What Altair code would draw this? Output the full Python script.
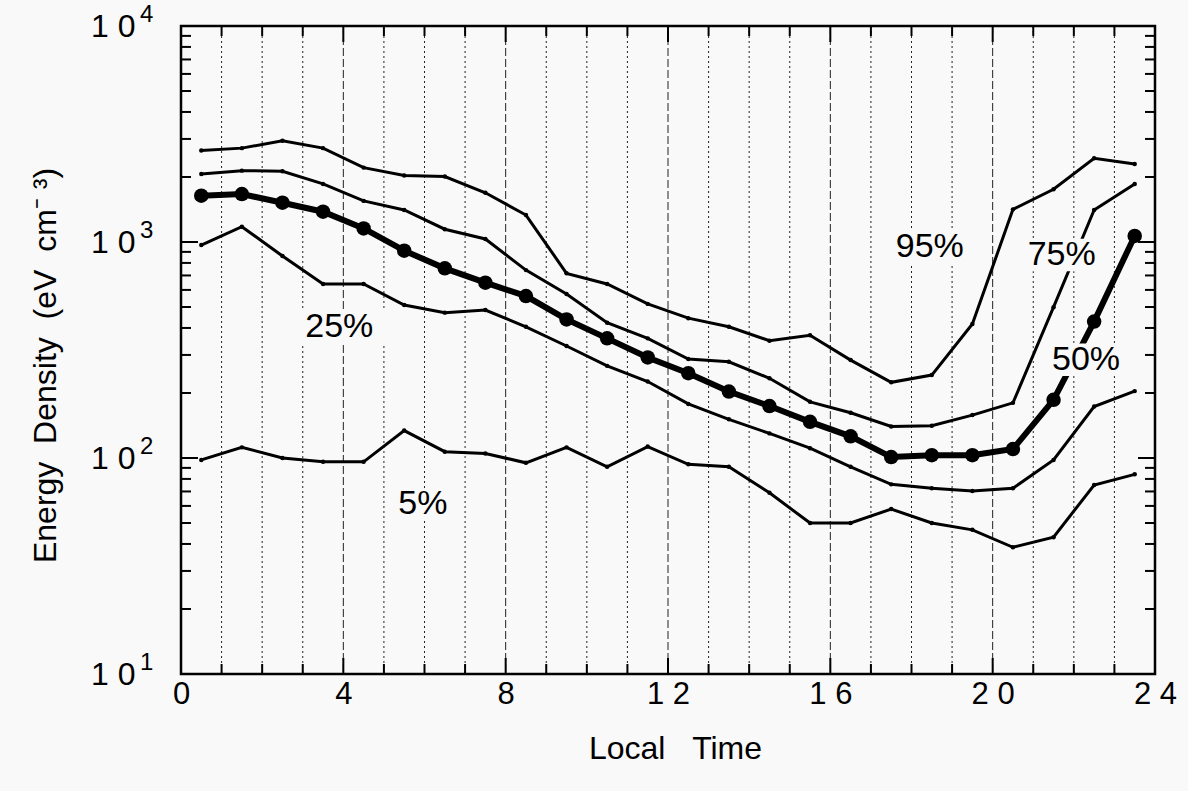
import altair as alt
import pandas as pd

# ---- data ----
hours = [0.5, 1.5, 2.5, 3.5, 4.5, 5.5, 6.5, 7.5, 8.5, 9.5, 10.5, 11.5,
         12.5, 13.5, 14.5, 15.5, 16.5, 17.5, 18.5, 19.5, 20.5, 21.5, 22.5, 23.5]
p95 = [2650, 2720, 2940, 2720, 2210, 2030, 2010, 1690, 1333, 716, 639, 517,
       444, 405, 349, 370, 284, 224, 242, 417, 1416, 1754, 2440, 2296]
p75 = [2066, 2140, 2125, 1857, 1550, 1407, 1146, 1033, 741, 574, 423, 358,
       287, 279, 234, 182, 162, 140, 141, 158, 180, 499, 1406, 1857]
p50 = [1638, 1667, 1520, 1381, 1156, 912, 755, 648, 562, 438, 358, 292,
       247, 203, 174, 147, 126, 101, 103, 103, 110, 186, 428, 1067]
p25 = [968, 1177, 861, 639, 639, 511, 471, 484, 405, 330, 267, 226,
       178, 151, 130, 111, 91, 75.5, 72.4, 70.3, 72.4, 98, 173, 204]
p5 = [98, 112, 100, 96, 96, 134, 107, 105, 95, 112, 91, 113,
      93.5, 91, 69, 50, 50, 58, 50, 46.5, 38.6, 43, 75, 84]

label_text = ["95%", "75%", "50%", "25%", "5%"]
label_hour = [18.45, 21.7, 22.3, 3.9, 5.96]
label_value = [951, 871, 285, 404, 61]

x_ticks = [0, 4, 8, 12, 16, 20, 24]
y_decades = [10, 100, 1000, 10000]
y_exponents = ["1", "2", "3", "4"]
grid_hours_minor = [1, 2, 3, 5, 6, 7, 9, 10, 11, 13, 14, 15, 17, 18, 19, 21, 22, 23]
grid_hours_major = [4, 8, 12, 16, 20]

NB = "\u00a0"
x_title = "Local" + NB * 3 + "Time"
y_title = "Energy" + NB * 2 + "Density" + NB * 2 + "(eV" + NB * 2 + "cm⁻" + NB + "³)"

# ---- tables ----
thin = pd.concat([
    pd.DataFrame({"h": hours, "v": s, "pct": name})
    for name, s in [("95", p95), ("75", p75), ("25", p25), ("5", p5)]
])
median = pd.DataFrame({"h": hours, "v": p50})
labels = pd.DataFrame({"h": label_hour, "v": label_value, "t": label_text})
PX_PER_H = 974 / 24.0
labels["h0"] = labels["h"] - (labels["t"].str.len() * 12 + 10) / PX_PER_H
labels["h1"] = labels["h"] + (labels["t"].str.len() * 12 + 10) / PX_PER_H
labels["v0"] = labels["v"] / 1.19
labels["v1"] = labels["v"] * 1.19

minor_y = [m * d for d in [10, 100, 1000] for m in range(2, 10)]
major_y = [100, 1000]
ytick_minor = pd.DataFrame({"v": minor_y})
ytick_major = pd.DataFrame({"v": major_y})
xtick_minor = pd.DataFrame({"h": grid_hours_minor})
xtick_major = pd.DataFrame({"h": grid_hours_major})
exps = pd.DataFrame({"v": y_decades, "e": y_exponents})

FONT = "Liberation Sans"
BG = "#f9f9f9"
xs = alt.Scale(domain=[0, 24], nice=False, zero=False)
ys = alt.Scale(type="log", domain=[10, 10000], nice=False)

x_axis = alt.Axis(values=x_ticks, tickSize=0, domain=False, grid=False,
                  labelFontSize=31, labelPadding=5, labelFont=FONT, labelColor="black",
                  labelFlush=False, labelOverlap=False,
                  labelExpr="datum.value >= 10 ? slice(datum.label,0,1) + ' ' + slice(datum.label,1) : datum.label",
                  title=x_title, titleFont=FONT, titleFontSize=32, titleFontWeight="normal",
                  titleColor="black", titleX=494, titleY=74, titleBaseline="middle")
y_axis = alt.Axis(values=y_decades, tickSize=0, domain=False, grid=False,
                  labelFontSize=32, labelPadding=46, labelFont=FONT, labelColor="black",
                  labelBaseline="middle", labelFlush=False, labelOverlap=False,
                  labelExpr="'1 0'",
                  title=y_title, titleFont=FONT, titleFontSize=32,
                  titleFontWeight="normal", titleColor="black", titleX=-136, titleY=339,
                  titleAngle=270, titleBaseline="middle", titleAlign="center")

base_x = alt.X("h:Q", scale=xs, axis=x_axis)
base_y = alt.Y("v:Q", scale=ys, axis=y_axis)

grid_minor = alt.Chart(xtick_minor).mark_rule(color="#222", strokeWidth=1, strokeDash=[2, 3]).encode(x=base_x)
grid_major = alt.Chart(xtick_major).mark_rule(color="#222", strokeWidth=1, strokeDash=[8, 3]).encode(x=base_x)

thin_lines = alt.Chart(thin).mark_line(color="black", strokeWidth=3).encode(
    x=base_x, y=base_y, detail="pct:N")
thin_pts = alt.Chart(thin).mark_circle(color="black", size=20, opacity=1).encode(x=base_x, y=base_y)
med_line = alt.Chart(median).mark_line(color="black", strokeWidth=6).encode(x=base_x, y=base_y)
med_pts = alt.Chart(median).mark_circle(color="black", size=210, opacity=1).encode(x=base_x, y=base_y)

boxes = alt.Chart(labels).transform_calculate(h="datum.h0").mark_rect(color=BG).encode(
    x=base_x, x2="h1:Q", y=alt.Y("v0:Q", scale=ys, axis=y_axis), y2="v1:Q")
texts = alt.Chart(labels).mark_text(font=FONT, fontSize=34, color="black", baseline="middle", align="center").encode(
    x=base_x, y=base_y, text="t:N")

bx_minor = alt.Chart(xtick_minor).mark_rule(color="black", strokeWidth=2).encode(x=base_x, y=alt.value(648), y2=alt.value(638))
bx_major = alt.Chart(xtick_major).mark_rule(color="black", strokeWidth=2).encode(x=base_x, y=alt.value(648), y2=alt.value(632))
tx_minor = alt.Chart(xtick_minor).mark_rule(color="black", strokeWidth=2).encode(x=base_x, y=alt.value(0), y2=alt.value(10))
tx_major = alt.Chart(xtick_major).mark_rule(color="black", strokeWidth=2).encode(x=base_x, y=alt.value(0), y2=alt.value(16))
ly_minor = alt.Chart(ytick_minor).mark_rule(color="black", strokeWidth=2).encode(y=base_y, x=alt.value(0), x2=alt.value(10))
ly_major = alt.Chart(ytick_major).mark_rule(color="black", strokeWidth=2).encode(y=base_y, x=alt.value(0), x2=alt.value(17))
ry_minor = alt.Chart(ytick_minor).mark_rule(color="black", strokeWidth=2).encode(y=base_y, x=alt.value(974), x2=alt.value(964))
ry_major = alt.Chart(ytick_major).mark_rule(color="black", strokeWidth=2).encode(y=base_y, x=alt.value(974), x2=alt.value(957))

exp_text = alt.Chart(exps).mark_text(font=FONT, fontSize=24, color="black", align="left",
                                     baseline="middle", dy=-11).encode(
    y=base_y, x=alt.value(-41), text="e:N")

chart = alt.layer(
    grid_minor, grid_major, thin_lines, thin_pts, med_line, med_pts,
    boxes, texts, bx_minor, bx_major, tx_minor, tx_major,
    ly_minor, ly_major, ry_minor, ry_major, exp_text
).properties(
    width=974, height=648,
    padding={"left": 181, "top": 26, "right": 33, "bottom": 117},
    autosize=alt.AutoSizeParams(type="none"),
    background=BG,
).configure_view(stroke="black", strokeWidth=2.5)

chart.save("out.html", embed_options={"renderer": "svg", "actions": False})
